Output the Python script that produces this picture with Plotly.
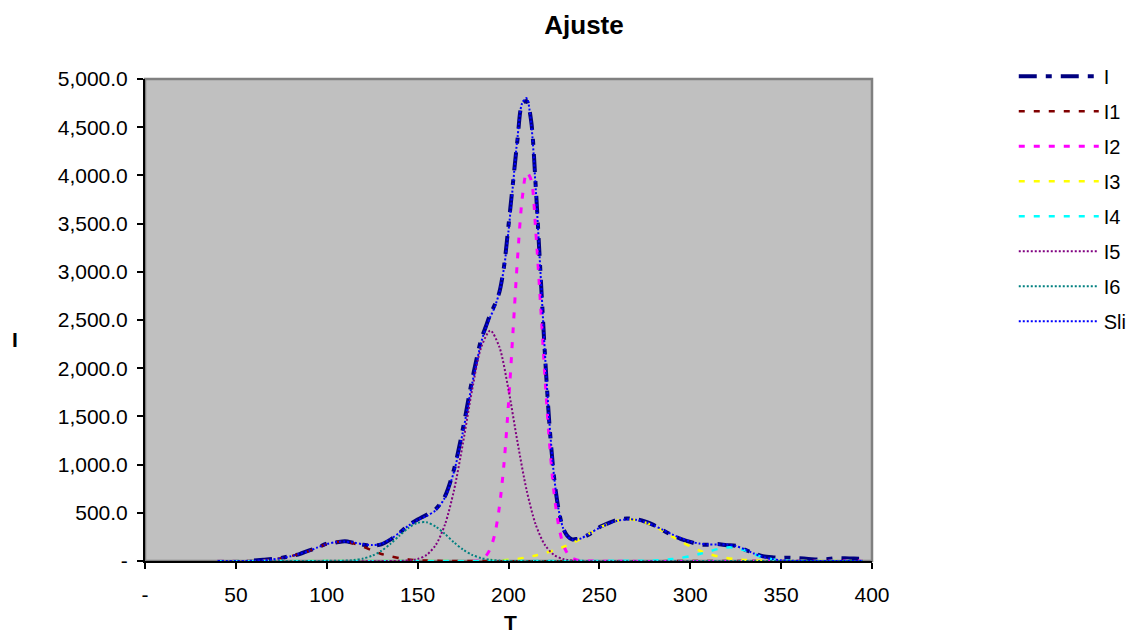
import plotly.graph_objects as go

# ---------------- data ----------------
T_grid = [40, 45, 50, 55, 60, 65, 70, 75, 80, 85, 90, 95, 100, 105, 110, 115, 120, 125,
          130, 135, 140, 145, 150, 155, 160, 165, 170, 175, 180, 185, 187.5, 190, 192.5,
          195, 197.5, 200, 202.5, 205, 207.5, 210, 212.5, 215, 217.5, 220, 222.5, 225,
          227.5, 230, 232.5, 235, 237.5, 240, 245, 250, 255, 260, 265, 270, 275, 280, 285,
          290, 295, 300, 305, 310, 315, 320, 325, 330, 335, 340, 345, 350, 355, 360, 365,
          370, 375, 380, 385, 390, 395]

Sli = [0, 0, 0, 1, 3, 8, 16, 30, 48, 75, 102, 141, 175, 196, 202, 191, 173, 165,
       178, 227, 293, 366, 425, 469, 526, 657, 926, 1346, 1841, 2269, 2419, 2532, 2638,
       2789, 3038, 3423, 3910, 4400, 4748, 4802, 4533, 3854, 3025, 2173, 1439, 892,
       540, 344, 252, 220, 222, 234, 290, 343, 387, 418, 432, 428, 404, 368, 322,
       276, 235, 202, 181, 172, 172, 171, 156, 121, 78, 43, 20, 8, 3, 1, 0,
       0, 0, 0, 0, 0, 0]

T_meas = T_grid[4:]
I_meas = [5, 12, 20, 32, 52, 72, 108, 140, 180, 192, 205, 188, 168, 160,
          172, 222, 290, 372, 430, 480, 540, 670, 950, 1380, 1880, 2300, 2430, 2560, 2660,
          2790, 3050, 3480, 3930, 4380, 4740, 4770, 4560, 3880, 3020, 2160, 1420, 880,
          540, 340, 258, 225, 228, 240, 282, 350, 392, 428, 440, 436, 410, 372, 318,
          268, 228, 198, 172, 168, 176, 164, 158, 118, 80, 50, 38, 32, 35, 28, 22,
          15, 18, 30, 28, 25, 24]

T_I1 = [40, 50, 55, 60, 65, 70, 75, 80, 85, 90, 95, 100, 105, 110, 115, 120, 125, 130,
        135, 140, 145, 150, 155, 160, 165, 395]
I1 = [0, 0, 1, 3, 8, 16, 30, 48, 75, 102, 141, 175, 196, 198, 181, 148, 110, 73,
      50, 30, 16, 8, 4, 2, 0, 0]

T_I2 = [40, 182.5, 185, 187.5, 190, 192.5, 195, 197.5, 200, 202.5, 205, 207.5, 210,
        212.5, 215, 217.5, 220, 222.5, 225, 227.5, 230, 232.5, 235, 237.5, 240, 395]
I2 = [0, 5, 19, 52, 128, 282, 562, 1006, 1633, 2387, 3150, 3752, 4032,
      3950, 3420, 2700, 1924, 1238, 718, 376, 178, 76, 29, 12, 4, 0]

T_I3 = [40, 180, 185, 190, 195, 200, 205, 210, 215, 220, 225, 230, 235, 240, 245, 250,
        255, 260, 265, 270, 275, 280, 285, 290, 295, 300, 305, 310, 315, 320, 325, 330,
        335, 340, 345, 350, 395]
I3 = [0, 1, 1, 2, 4, 12, 22, 38, 58, 82, 110, 145, 185, 234, 290, 343,
      387, 418, 432, 426, 401, 362, 311, 256, 202, 152, 109, 75, 49, 31, 18, 11,
      6, 3, 1, 0, 0]

T_I4 = [40, 270, 275, 280, 285, 290, 295, 300, 305, 310, 315, 320, 325, 330, 335, 340,
        345, 350, 355, 360, 365, 395]
I4 = [0, 2, 3, 6, 11, 20, 33, 50, 72, 97, 123, 140, 138, 110, 72, 40,
      19, 8, 3, 1, 0, 0]

T_I5 = [40, 145, 150, 155, 160, 165, 170, 175, 180, 185, 190, 195, 200, 205, 210, 215,
        220, 225, 230, 235, 395]
I5 = [0, 6, 21, 64, 167, 376, 732, 1228, 1777, 2219, 2390, 2219, 1777, 1228, 732, 376,
      167, 64, 21, 6, 0]

T_I6 = [40, 110, 115, 120, 125, 130, 135, 140, 145, 150, 155, 160, 165, 170, 175, 180,
        185, 190, 195, 200, 395]
I6 = [0, 4, 10, 25, 55, 105, 177, 263, 344, 396, 401, 357, 281, 194, 118, 63,
      30, 12, 4, 1, 0]

x_tickvals = [0, 50, 100, 150, 200, 250, 300, 350, 400]
x_ticktext = ["-", "50", "100", "150", "200", "250", "300", "350", "400"]
y_tickvals = [0, 500, 1000, 1500, 2000, 2500, 3000, 3500, 4000, 4500, 5000]
y_ticktext = ["-", "500.0", "1,000.0", "1,500.0", "2,000.0", "2,500.0", "3,000.0",
              "3,500.0", "4,000.0", "4,500.0", "5,000.0"]

# ---------------- figure ----------------
FONT = "Arial, Liberation Sans, Helvetica, sans-serif"
OFF = 8  # page body margin in the browser
fig = go.Figure()

series = [
    ("I", T_meas, I_meas, "#000080", 4, "18px,9px,6px,9px"),
    ("I1", T_I1, I1, "#800000", 2.5, "6px,9px"),
    ("I2", T_I2, I2, "#FF00FF", 3, "6px,9px"),
    ("I3", T_I3, I3, "#FFFF00", 2.5, "6px,9px"),
    ("I4", T_I4, I4, "#00FFFF", 2.5, "6px,9px"),
    ("I5", T_I5, I5, "#800080", 2, "2px,2px"),
    ("I6", T_I6, I6, "#008080", 2, "2px,2px"),
    ("Sli", T_grid, Sli, "#0000FF", 2, "2px,2px"),
]
for name, xs, ys, col, w, dash in series:
    fig.add_trace(go.Scatter(
        x=xs, y=ys, mode="lines", name=name, legendgroup=name,
        line=dict(color=col, width=w, dash=dash, shape="spline", smoothing=0.8),
    ))

fig.update_layout(
    width=1135, height=635,
    margin=dict(l=145 - OFF, r=1135 - 872 + OFF, t=79 - OFF, b=635 - 561 + OFF,
                autoexpand=False),
    paper_bgcolor="white", plot_bgcolor="#C0C0C0",
    font=dict(family=FONT, size=21, color="black"),
    title=dict(text="<b>Ajuste</b>", x=(584 - OFF) / 1135, xref="container",
               xanchor="center", y=1 - (25 - OFF) / 635, yref="container",
               yanchor="middle", font=dict(size=26, family=FONT)),
    showlegend=True,
    legend=dict(x=1.195, xanchor="left", y=1.046, yanchor="top",
                font=dict(size=20, family=FONT), itemwidth=80,
                tracegroupgap=6, bgcolor="rgba(0,0,0,0)", traceorder="grouped"),
    xaxis=dict(range=[0, 400], tickvals=x_tickvals, ticktext=x_ticktext,
               showgrid=False, zeroline=False, showline=True, linecolor="black",
               linewidth=2, ticks="outside", ticklen=6, tickcolor="black", tickwidth=1.5,
               ticklabelstandoff=8, automargin=False,
               tickfont=dict(size=21, family=FONT)),
    yaxis=dict(range=[0, 5000], tickvals=y_tickvals, ticktext=y_ticktext,
               showgrid=False, zeroline=False, showline=True, linecolor="black",
               linewidth=2, ticks="outside", ticklen=6, tickcolor="black", tickwidth=1.5,
               ticklabelstandoff=5, automargin=False,
               tickfont=dict(size=21, family=FONT)),
    shapes=[dict(type="rect", xref="paper", yref="paper", x0=0, x1=1, y0=0, y1=1,
                 line=dict(color="#808080", width=2.5), layer="below")],
    annotations=[
        dict(text="<b>T</b>", xref="paper", yref="paper", x=(510 - 145) / 727,
             y=-(622 - 561) / 482, xanchor="center", yanchor="middle",
             showarrow=False, font=dict(size=21, family=FONT)),
        dict(text="<b>I</b>", xref="paper", yref="paper", x=-(145 - 15) / 727,
             y=(561 - 339) / 482, xanchor="center", yanchor="middle",
             showarrow=False, font=dict(size=21, family=FONT)),
    ],
)

fig.write_html("out.html")
